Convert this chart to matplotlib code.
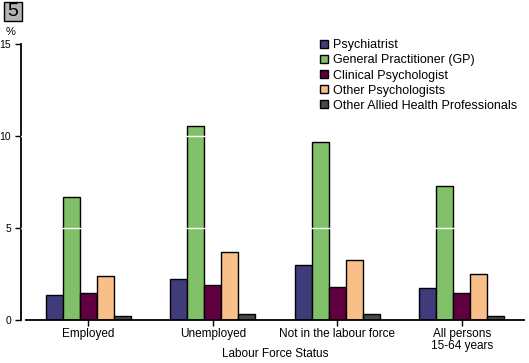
import numpy as np
import matplotlib
matplotlib.use("Agg")
import matplotlib.pyplot as plt
from matplotlib.patches import Rectangle

# Labour force status groups (x axis)
categories = ["Employed", "Unemployed", "Not in the labour force", "All persons\n15-64 years"]

# Per cent consulting each provider type
series_names = ["Psychiatrist", "General Practitioner (GP)", "Clinical Psychologist",
                "Other Psychologists", "Other Allied Health Professionals"]
psychiatrist = [1.35, 2.22, 2.98, 1.73]
gp = [6.67, 10.53, 9.66, 7.28]
clinical_psych = [1.46, 1.9, 1.8, 1.46]
other_psych = [2.38, 3.68, 3.26, 2.51]
allied_health = [0.2, 0.3, 0.31, 0.2]

y_ticks = [0, 5, 10, 15]

colors = ["#403c7c", "#80c068", "#600040", "#f8c088", "#484848"]
values = [psychiatrist, gp, clinical_psych, other_psych, allied_health]

plt.rcParams["font.family"] = ["Liberation Sans", "DejaVu Sans"]

fig = plt.figure(figsize=(5.29, 3.63), dpi=100)
ax = fig.add_axes([21 / 529, 1 - 320 / 363, 503 / 529, 276 / 363])

x = np.arange(len(categories))
width = 0.137
for i, (name, vals, c) in enumerate(zip(series_names, values, colors)):
    ax.bar(x + (i - 2) * width, vals, width, color=c, edgecolor="black",
           linewidth=1, label=name, zorder=2)

# white gridlines show only across bars
for yv in y_ticks[1:-1]:
    ax.axhline(yv, color="white", linewidth=1, zorder=3)

n = len(categories)
ax.set_xlim(-0.5 - 5 / 124.5, n - 0.5)
ax.set_ylim(0, 15)
ax.set_yticks(y_ticks)
ax.set_xticks(x)
ax.set_xticklabels(categories, fontsize=8.5, linespacing=1.0)
ax.tick_params(axis="y", labelsize=7.5, length=4, width=1, pad=3, direction="out")
ax.tick_params(axis="x", length=4, width=1, pad=2, direction="out")

for s in ("top", "right"):
    ax.spines[s].set_visible(False)
ax.spines["bottom"].set_bounds(-0.5, n - 0.5)
ax.spines["left"].set_linewidth(1.3)
ax.spines["bottom"].set_linewidth(1.3)

fig.text(275 / 529, 1 - 354 / 363, "Labour Force Status", fontsize=8.5,
         ha="center", va="center")
fig.text(6 / 529, 1 - 32 / 363, "%", fontsize=8, ha="left", va="center")

# panel number box
fig.patches.append(Rectangle((4 / 529, 1 - 21 / 363), 18 / 529, 19 / 363,
                             transform=fig.transFigure, facecolor="#b4b4b4",
                             edgecolor="black", linewidth=1))
fig.text(13 / 529, 1 - 11.5 / 363, "5", fontsize=14, ha="center", va="center")

leg = ax.legend(loc="upper left", bbox_to_anchor=(0.585, 1.035), frameon=False,
                fontsize=9, handlelength=0.6, handleheight=0.6, handletextpad=0.4,
                labelspacing=0.25, borderaxespad=0)

fig.savefig("out.png", dpi=100)
